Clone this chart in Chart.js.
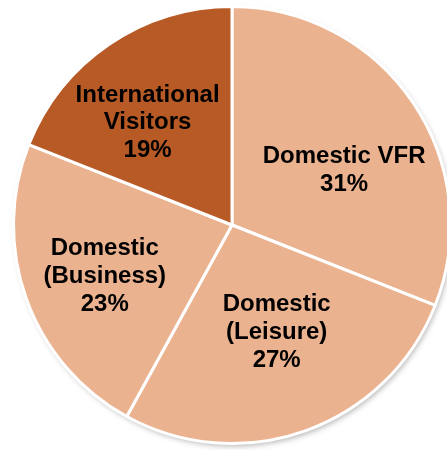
<!DOCTYPE html>
<html>
<head>
<meta charset="utf-8">
<script src="https://cdn.jsdelivr.net/npm/chart.js@4.4.0/dist/chart.umd.min.js"></script>
<style>
  html, body { margin: 0; padding: 0; background: #fff; overflow: hidden; }
  #wrap { position: absolute; left: 0; top: 0; width: 464px; height: 450px; }
</style>
</head>
<body>
<div id="wrap"><canvas id="grafico"></canvas></div>
<script>
// Visitor split
const categorias = ["Domestic VFR", "Domestic (Leisure)", "Domestic (Business)", "International Visitors"];
const valores = [31, 27, 23, 19];
// text lines drawn inside each slice
const rotulos = [
  ["Domestic VFR", "31%"],
  ["Domestic", "(Leisure)", "27%"],
  ["Domestic", "(Business)", "23%"],
  ["International", "Visitors", "19%"]
];
const cores = ["#ebb290", "#ebb290", "#ebb290", "#b85a25"];
// label placement: fraction of radius, angle shift (deg) from slice middle
const distRotulo = [0.575, 0.523, 0.625, 0.614];
const giroRotulo = [7.4, -3.2, -1.5, -4.8];

const sombraPlugin = {
  id: 'sombra',
  beforeDatasetsDraw(chart) {
    const arc = chart.getDatasetMeta(0).data[0];
    if (!arc) return;
    const p = arc.getProps(['x', 'y', 'outerRadius'], true);
    const ctx = chart.ctx;
    ctx.save();
    ctx.shadowColor = 'rgba(0,0,0,0.35)';
    ctx.shadowBlur = 6;
    ctx.shadowOffsetX = 2;
    ctx.shadowOffsetY = 3;
    ctx.fillStyle = '#ebb290';
    ctx.beginPath();
    ctx.arc(p.x, p.y, p.outerRadius - 1, 0, Math.PI * 2);
    ctx.fill();
    ctx.restore();
  }
};

const rotulosPlugin = {
  id: 'rotulos',
  afterDatasetsDraw(chart) {
    const ctx = chart.ctx;
    const arcs = chart.getDatasetMeta(0).data;
    ctx.save();
    ctx.font = 'bold 24px "Liberation Sans", Arial, sans-serif';
    ctx.fillStyle = '#000';
    ctx.textAlign = 'center';
    ctx.textBaseline = 'middle';
    arcs.forEach((arc, i) => {
      const p = arc.getProps(['x', 'y', 'startAngle', 'endAngle', 'outerRadius'], true);
      const mid = (p.startAngle + p.endAngle) / 2 + giroRotulo[i] * Math.PI / 180;
      const r = p.outerRadius * distRotulo[i];
      const cx = p.x + Math.cos(mid) * r;
      const cy = p.y + Math.sin(mid) * r + 2;
      const linhas = rotulos[i];
      const lh = 27.8;
      linhas.forEach((t, k) => {
        ctx.fillText(t, cx, cy + (k - (linhas.length - 1) / 2) * lh);
      });
    });
    ctx.restore();
  }
};

new Chart(document.getElementById("grafico"), {
  type: 'pie',
  data: {
    labels: categorias,
    datasets: [{
      data: valores,
      backgroundColor: cores,
      borderColor: '#ffffff',
      borderWidth: 3
    }]
  },
  options: {
    responsive: true,
    maintainAspectRatio: false,
    animation: false,
    layout: { padding: 5 },
    plugins: {
      legend: { display: false },
      tooltip: { enabled: false }
    }
  },
  plugins: [sombraPlugin, rotulosPlugin]
});
</script>
</body>
</html>
